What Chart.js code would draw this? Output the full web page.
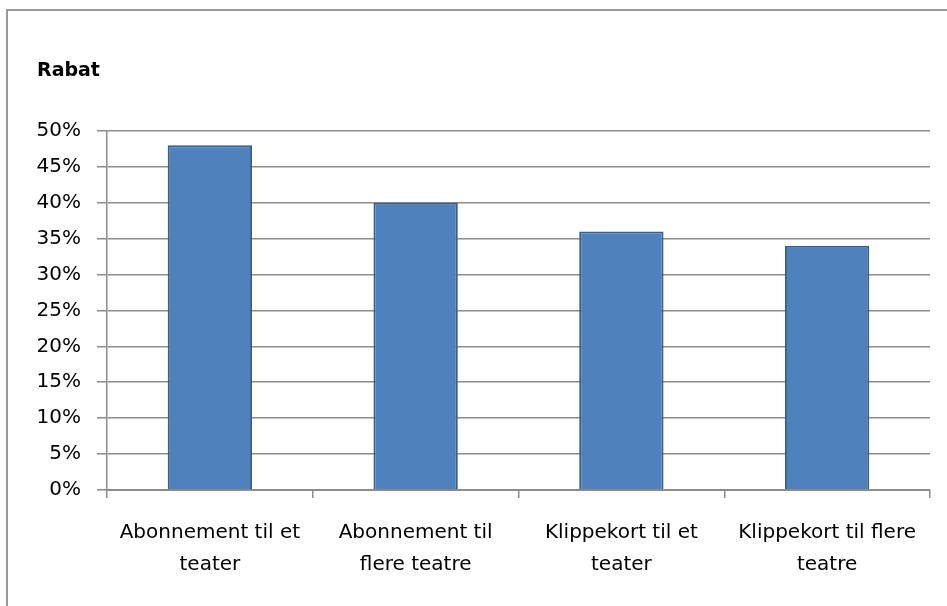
<!DOCTYPE html>
<html>
<head>
<meta charset="utf-8" />
<title>Rabat</title>
<script src="https://cdn.jsdelivr.net/npm/chart.js@4"></script>
<style>
  body { margin: 0; overflow: hidden; background: #fff; }
  #wrap { position: relative; width: 947px; height: 606px; }
  #frame { position: absolute; left: 6px; top: 9px; width: 2000px; height: 2000px;
           border-left: 2px solid #9a9a9a; border-top: 2px solid #9a9a9a; pointer-events: none; }
</style>
</head>
<body>
<div id="wrap">
  <canvas id="myChart" width="947" height="606"></canvas>
  <div id="frame"></div>
</div>
<script>
// data
var categories = [
  ["Abonnement til et", "teater"],
  ["Abonnement til", "flere teatre"],
  ["Klippekort til et", "teater"],
  ["Klippekort til flere", "teatre"]
];
var rabat = [0.48, 0.40, 0.36, 0.34];
var tickStep = 0.05;
var tickMax = 0.5;

var font = "'DejaVu Sans', sans-serif";

var ctx = document.getElementById("myChart");
var myChart = new Chart(ctx, {
  type: 'bar',
  data: {
    labels: categories,
    datasets: [{
      label: "Rabat",
      data: rabat,
      backgroundColor: "#4F81BD",
      borderColor: "#3A5F8B",
      borderWidth: 2,
      barPercentage: 0.41,
      categoryPercentage: 1
    }]
  },
  options: {
    responsive: false,
    animation: false,
    layout: { padding: { left: 37, top: 10, right: 17, bottom: 0 } },
    plugins: {
      legend: { display: false },
      tooltip: { enabled: false },
      title: {
        display: true,
        text: 'Rabat',
        align: 'start',
        color: '#000',
        font: { family: font, size: 19, weight: 'bold', lineHeight: 1.2 },
        padding: { top: 50, bottom: 48 }
      }
    },
    scales: {
      x: {
        grid: { display: true, drawOnChartArea: false, drawTicks: true, tickLength: 8,
                color: '#8c8c8c', lineWidth: 1.5 },
        border: { color: '#8c8c8c', width: 2 },
        ticks: { color: '#000', maxRotation: 0, autoSkip: false, padding: 19,
                 font: { family: font, size: 20, lineHeight: '32px' } },
        afterFit: function(scale) { scale.height = 116; }
      },
      y: {
        min: 0,
        max: tickMax,
        grid: { color: '#8c8c8c', lineWidth: 1.5, tickLength: 10 },
        border: { color: '#8c8c8c', width: 1.5 },
        ticks: {
          stepSize: tickStep,
          color: '#000',
          padding: 16,
          font: { family: font, size: 20 },
          callback: function(v) { return Math.round(v * 100) + '%'; }
        },
        afterFit: function(scale) { scale.width = 70; }
      }
    }
  }
});
</script>
</body>
</html>
